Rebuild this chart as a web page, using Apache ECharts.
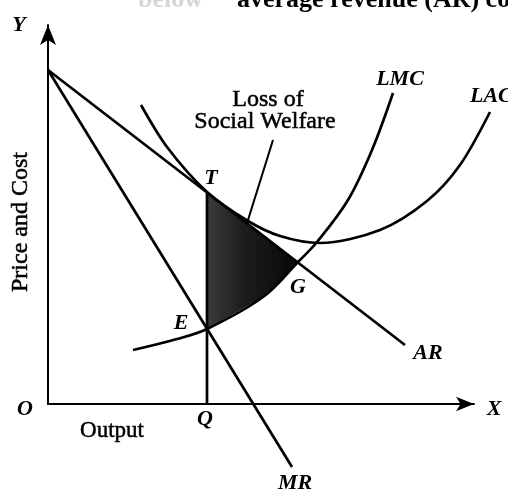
<!DOCTYPE html>
<html>
<head>
<meta charset="utf-8">
<script src="https://cdn.jsdelivr.net/npm/echarts@6/dist/echarts.min.js"></script>
<style>
html, body { margin: 0; padding: 0; background: #fff; }
#chart { width: 508px; height: 493px; }
</style>
</head>
<body>
<div id="chart"></div>
<script>
// values, origin at O (1 unit ~ 1 px)
const arX = [0, 357];
const arY = [334, 59];
const mrX = [0, 244];
const mrY = [334, -63];
const lmcX = [85, 129, 159, 215, 250, 269, 300, 324, 345];
const lmcY = [54, 65, 75, 107, 142, 162, 204, 254, 311];
const lacX = [93, 119, 159, 200, 232, 272, 332, 379, 412, 442];
const lacY = [299, 257, 212, 183, 168, 161, 174, 203, 239, 292];
const qtX = [159, 159];
const qtY = [0, 212];
// loss of social welfare: T -> G along AR, back along LMC to E
const shadeX = [159, 250, 215, 159];
const shadeY = [212, 142, 107, 75];
const leaderX = [225, 200];
const leaderY = [264, 184];

const pairs = (xs, ys) => xs.map((x, i) => [x, ys[i]]);

const chart = echarts.init(document.getElementById('chart'));

const serif = 'Liberation Serif, Times New Roman, serif';
const lbl = (text, x, y, opts = {}) => ({
  type: 'text',
  x: x,
  y: y,
  rotation: opts.rotation || 0,
  style: {
    text: text,
    font: opts.font || `italic bold 22px ${serif}`,
    fill: opts.fill || '#000',
    stroke: opts.fill || '#000',
    lineWidth: opts.weight || 0,
    textAlign: opts.align || 'center',
    textVerticalAlign: 'middle',
    align: opts.align || 'center',
    verticalAlign: 'middle'
  }
});

const lineStyle = { color: '#000', width: 2.7 };
const curve = (xs, ys, smooth) => ({
  type: 'line',
  data: pairs(xs, ys),
  symbol: 'none',
  smooth: smooth,
  clip: false,
  silent: true,
  z: 3,
  lineStyle: lineStyle
});

const hidden = {
  axisTick: { show: false },
  axisLabel: { show: false },
  splitLine: { show: false }
};
const arrowLine = size => ({
  show: true,
  onZero: false,
  symbol: ['none', 'arrow'],
  symbolSize: size,
  lineStyle: { color: '#000', width: 2 }
});

const option = {
  animation: false,
  backgroundColor: '#fff',
  // grid 0 holds the curves, grid 1 only carries the X axis arrow
  grid: [
    { left: 48, top: 25, right: 0, bottom: 89 },
    { left: 48, top: 25, right: 34, bottom: 89 }
  ],
  xAxis: [
    { type: 'value', min: 0, max: 460, gridIndex: 0, ...hidden, axisLine: { show: false } },
    { type: 'value', min: 0, max: 426, gridIndex: 1, ...hidden, axisLine: arrowLine([11, 18]) }
  ],
  yAxis: [
    { type: 'value', min: 0, max: 379, gridIndex: 0, ...hidden, axisLine: arrowLine([12, 20]) },
    { type: 'value', min: 0, max: 379, gridIndex: 1, ...hidden, axisLine: { show: false } }
  ],
  series: [
    {
      type: 'custom',
      data: [[0, 0]],
      clip: false,
      silent: true,
      z: 1,
      renderItem: (params, api) => {
        const pts = shadeX.map((x, i) => api.coord([x, shadeY[i]]));
        return {
          type: 'polygon',
          shape: { points: pts },
          style: {
            fill: new echarts.graphic.LinearGradient(0, 0, 1, 0, [
              { offset: 0, color: '#3c3c3c' },
              { offset: 0.4, color: '#1c1c1c' },
              { offset: 1, color: '#080808' }
            ])
          }
        };
      }
    },
    curve(arX, arY, false),
    curve(mrX, mrY, false),
    curve(lmcX, lmcY, 0.35),
    curve(lacX, lacY, 0.3),
    curve(qtX, qtY, false),
    { ...curve(leaderX, leaderY, false), lineStyle: { color: '#000', width: 2 } }
  ],
  graphic: [
    lbl('average revenue (AR) co', 237, 0, { font: `bold 26px ${serif}`, align: 'left' }),
    lbl('below', 138, 0, { font: `bold 26px ${serif}`, align: 'left', fill: '#d6d6d6' }),
    lbl('Y', 19, 25),
    lbl('O', 25, 409),
    lbl('X', 494, 409),
    lbl('Q', 205, 419),
    lbl('Output', 112, 431, { font: `23px ${serif}`, weight: 0.5 }),
    lbl('Price and Cost', 21, 222, { font: `24px ${serif}`, rotation: Math.PI / 2, weight: 0.5 }),
    lbl('Loss of', 268, 100, { font: `24px ${serif}`, weight: 0.5 }),
    lbl('Social Welfare', 265, 122, { font: `24px ${serif}`, weight: 0.5 }),
    lbl('T', 211, 178),
    lbl('E', 181, 323),
    lbl('G', 298, 287),
    lbl('LMC', 400, 79),
    lbl('LAC', 470, 96, { align: 'left' }),
    lbl('AR', 428, 353),
    lbl('MR', 295, 483)
  ]
};

chart.setOption(option);
</script>
</body>
</html>
